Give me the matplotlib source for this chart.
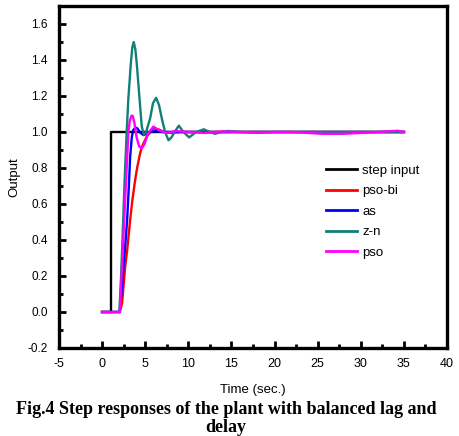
import matplotlib
matplotlib.use("Agg")
import matplotlib.pyplot as plt
from matplotlib.ticker import MultipleLocator

# ---- data ----
step_t = [0, 1, 1, 35]
step_y = [0, 0, 1, 1]

psobi_t = [0, 2.05, 2.32, 2.67, 2.9, 3.25, 3.48, 3.83, 4.06, 4.4, 4.64, 5.18, 5.6, 5.95, 6.5, 7.2, 8, 9, 35]
psobi_y = [0, 0, 0.05, 0.25, 0.34, 0.51, 0.61, 0.733, 0.80, 0.88, 0.92, 0.975, 1.0, 1.02, 1.015, 1.0, 0.995, 1.0, 1.0]

as_t = [0, 2.05, 2.4, 2.7, 2.9, 3.1, 3.25, 3.44, 3.6, 3.85, 4.1, 4.45, 4.8, 5.2, 5.7, 6.3, 7, 35]
as_y = [0, 0, 0.2, 0.38, 0.51, 0.7, 0.86, 0.97, 1.01, 1.025, 1.02, 0.995, 0.983, 0.99, 1.003, 1.005, 1.0, 1.0]

zn_t = [0, 2.0, 2.2, 2.4, 2.6, 2.85, 3.05, 3.33, 3.5, 3.67, 3.85, 4.02, 4.33, 4.6, 4.85, 5.1,
        5.57, 5.9, 6.26, 6.6, 6.92, 7.3, 7.7, 8.05, 8.4, 8.9, 9.43, 10.1, 10.9, 11.8, 12.5,
        13.1, 13.8, 14.6, 16, 35]
zn_y = [0, 0, 0.2, 0.45, 0.72, 1.0, 1.19, 1.38, 1.47, 1.50, 1.46, 1.38, 1.19, 1.03, 0.985, 1.0,
        1.076, 1.16, 1.19, 1.15, 1.076, 1.0, 0.954, 0.97, 1.0, 1.035, 1.0, 0.97, 1.0, 1.015, 1.0,
        0.99, 1.0, 1.006, 1.0, 1.0]

pso_t = [0, 2.05, 2.3, 2.55, 2.8, 3.05, 3.2, 3.4, 3.55, 3.75, 4.0, 4.3, 4.6, 4.9, 5.3, 5.95,
         6.6, 7.5, 8.5, 10, 12, 14, 16, 18, 20, 22, 25.6, 28, 30, 32, 34.3, 35]
pso_y = [0, 0, 0.25, 0.5, 0.75, 1.0, 1.06, 1.09, 1.09, 1.05, 0.97, 0.92, 0.91, 0.93, 0.99, 1.03,
         1.01, 0.995, 1.005, 1.0, 0.995, 1.003, 1.0, 0.995, 1.0, 1.0, 0.99, 0.99, 0.995, 1.0, 1.007, 1.0]

x_ticks = [-5, 0, 5, 10, 15, 20, 25, 30, 35, 40]
y_ticks = [-0.2, 0.0, 0.2, 0.4, 0.6, 0.8, 1.0, 1.2, 1.4, 1.6]

plt.rcParams['font.family'] = ['Liberation Sans', 'DejaVu Sans']

fig = plt.figure(figsize=(4.59, 4.36), dpi=100)
ax = fig.add_axes([59/459, 88/436, 388/459, 342/436])

lw = 1.7
ax.plot(step_t, step_y, color='black', lw=lw, label='step input')
ax.plot(psobi_t, psobi_y, color='#ff0000', lw=lw, label='pso-bi')
ax.plot(as_t, as_y, color='#0000ff', lw=lw, label='as')
ax.plot(zn_t, zn_y, color='#108078', lw=lw, label='z-n')
ax.plot(pso_t, pso_y, color='#ff00ff', lw=lw, label='pso')

ax.set_xlim(-5, 40)
ax.set_ylim(-0.2, 1.7)
ax.set_xticks(x_ticks)
ax.set_yticks(y_ticks)
ax.set_xticklabels([str(v) for v in x_ticks])
ax.set_yticklabels([f"{v:.1f}" for v in y_ticks])
ax.xaxis.set_minor_locator(MultipleLocator(2.5))
ax.yaxis.set_minor_locator(MultipleLocator(0.1))
ax.tick_params(which='both', direction='in', width=2, top=False, right=False, colors='black')
ax.tick_params(axis='x', which='major', length=5, pad=7, labelsize=9)
ax.tick_params(axis='y', which='major', length=5, pad=8, labelsize=8.5)
ax.tick_params(which='minor', length=3)
for s in ax.spines.values():
    s.set_linewidth(2.4)

ax.set_xlabel('Time (sec.)', fontsize=9.5, labelpad=10)
ax.set_ylabel('Output', fontsize=9.5, labelpad=5)

leg = ax.legend(loc='upper left', bbox_to_anchor=(0.688, 0.536), frameon=False, fontsize=9.5,
                borderpad=0, borderaxespad=0, handlelength=2.35, handletextpad=0.4, labelspacing=0.62)
for h in leg.get_lines():
    h.set_linewidth(2.0)

fig.text(226/459, 1 - 409/436, 'Fig.4 Step responses of the plant with balanced lag and',
         ha='center', va='center', fontsize=13, fontweight='bold', family='Liberation Serif')
fig.text(226/459, 1 - 427/436, 'delay',
         ha='center', va='center', fontsize=13, fontweight='bold', family='Liberation Serif')

fig.savefig('out.png', dpi=100)
